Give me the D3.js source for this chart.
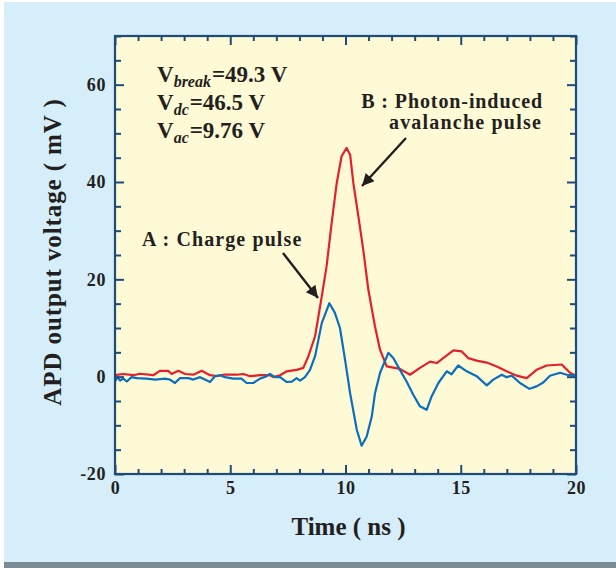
<!DOCTYPE html>
<html>
<head>
<meta charset="utf-8">
<script src="https://cdn.jsdelivr.net/npm/d3@7"></script>
<style>
  html, body { margin: 0; padding: 0; background: #ffffff; }
  svg { display: block; }
  text { font-family: "Liberation Serif", "Times New Roman", serif; font-weight: bold; fill: #231f20; }
</style>
</head>
<body>
<svg id="chart" width="616" height="568"></svg>
<script>
// Time axis (ns) and output voltage (mV) of the two APD pulses
const timeB = [0,0.36,0.8,1.08,1.66,1.95,2.31,2.46,2.75,3.04,3.40,3.76,4.12,4.41,4.70,5.28,5.57,5.86,6.29,6.72,6.87,7.16,7.45,7.88,8.17,8.39,8.68,8.97,9.18,9.40,9.62,9.83,10.05,10.20,10.34,10.56,10.77,10.99,11.28,11.50,11.79,12.36,12.80,13.23,13.67,13.96,14.24,14.68,15.04,15.33,15.69,16.13,16.56,16.99,17.43,17.86,18.29,18.73,19.38,19.74,20];
const voltB = [0.3,0.55,0.3,0.6,0.3,1.2,1.2,0.55,1.2,0.55,0.4,1.2,0.3,0.1,0.4,0.4,0.55,0.1,0.3,0.3,-0.1,0.3,1.1,1.4,1.8,4.2,8.3,16.5,22.7,31.6,39.8,45.3,47.0,45.6,39.8,32.9,26.1,17.9,10.3,5.5,2.1,1.6,0.4,1.8,3.1,2.8,3.8,5.4,5.2,3.8,3.3,2.9,2.1,1.1,0.2,-0.3,1.4,2.3,2.5,0.8,0.2];

const timeA = [0,0.1,0.22,0.36,0.51,0.72,0.94,1.37,1.74,2.17,2.39,2.60,2.82,3.18,3.40,3.69,3.90,4.12,4.34,4.56,4.77,5.13,5.49,5.71,6.00,6.29,6.58,6.72,6.94,7.16,7.45,7.67,7.88,8.03,8.24,8.46,8.68,8.97,9.30,9.54,9.76,9.98,10.20,10.49,10.70,10.92,11.14,11.28,11.50,11.86,12.08,12.36,12.65,12.94,13.23,13.52,13.74,14.03,14.39,14.60,14.89,15.26,15.69,16.13,16.41,16.78,16.99,17.21,17.57,17.98,18.29,18.58,18.87,19.31,19.60,20];
const voltA = [-1.0,-0.1,-0.8,-0.4,-1.0,-0.1,-0.3,-0.4,-0.6,-0.4,-0.6,-1.3,-0.3,-0.3,-0.6,-0.1,-0.6,-1.1,0.1,0.3,-0.1,-0.4,-0.4,-1.3,-1.3,-0.4,0.1,0.55,-0.1,-0.1,-1.1,-1.0,-0.3,-0.8,-0.1,1.4,4.2,11.0,15.1,13.1,10.0,3.5,-3.4,-10.9,-14.2,-12.3,-8.2,-3.4,0.8,4.9,3.8,1.4,-1.0,-3.7,-6.1,-6.8,-4.0,-1.3,1.1,0.5,2.3,1.1,0.1,-1.8,-0.6,0.4,-0.1,0.2,-1.3,-2.5,-2.0,-1.2,0.2,0.8,0.4,0.2];

const xMajorTicks = [0, 5, 10, 15, 20];
const yMajorTicks = [-20, 0, 20, 40, 60];

const C = {
  panel: "#d6eefa", plot: "#fffad6", axis: "#1d4c7a",
  red: "#e3212b", blue: "#0a6fbd", bar: "#7b8b93", ink: "#231f20"
};

const svg = d3.select("#chart");

// backdrop panel and footer strip
svg.append("rect").attr("x", 4).attr("y", 2).attr("width", 612).attr("height", 560).attr("fill", C.panel);
svg.append("rect").attr("x", 4).attr("y", 562).attr("width", 612).attr("height", 6).attr("fill", C.bar);

const L = 115, R = 576, T = 36, B = 474;
const x = d3.scaleLinear().domain([0, 20]).range([L, R]);
const y = d3.scaleLinear().domain([-20, 70]).range([B, T]);

svg.append("rect").attr("x", L).attr("y", T).attr("width", R - L).attr("height", B - T).attr("fill", C.plot);

// curves
const line = (ts, vs) => d3.line().x((d, i) => x(ts[i])).y((d, i) => y(vs[i]))(ts);
const g = svg.append("g");
g.append("path").attr("d", line(timeB, voltB)).attr("fill", "none")
  .attr("stroke", C.red).attr("stroke-width", 2.2).attr("stroke-linejoin", "round");
g.append("path").attr("d", line(timeA, voltA)).attr("fill", "none")
  .attr("stroke", C.blue).attr("stroke-width", 2.2).attr("stroke-linejoin", "round");

// axes: inward ticks on all four sides
const xMinor = d3.range(0, 21, 1).filter(v => v % 5 !== 0);
const yMinor = d3.range(-20, 71, 5).filter(v => v % 20 !== 0);

function styleAxis(sel) {
  sel.select(".domain").remove();
  sel.selectAll("line").attr("stroke", C.axis).attr("stroke-width", 2);
  sel.selectAll("text").attr("fill", C.ink).style("font-size", "18px").style("letter-spacing", "0.6px")
    .style("font-family", '"Liberation Serif", serif').style("font-weight", "bold");
}
// plain hyphen for negative labels
const fmt = v => String(v);

svg.append("g").attr("transform", `translate(0,${B})`)
  .call(d3.axisBottom(x).tickValues(xMajorTicks).tickSize(-9).tickPadding(7).tickFormat(fmt)).call(styleAxis);
svg.append("g").attr("transform", `translate(0,${B})`)
  .call(d3.axisBottom(x).tickValues(xMinor).tickSize(-5).tickFormat("")).call(styleAxis);
svg.append("g").attr("transform", `translate(0,${T})`)
  .call(d3.axisTop(x).tickValues(xMajorTicks).tickSize(-9).tickFormat("")).call(styleAxis);
svg.append("g").attr("transform", `translate(0,${T})`)
  .call(d3.axisTop(x).tickValues(xMinor).tickSize(-5).tickFormat("")).call(styleAxis);

svg.append("g").attr("transform", `translate(${L},0)`)
  .call(d3.axisLeft(y).tickValues(yMajorTicks).tickSize(-9).tickPadding(9).tickFormat(fmt)).call(styleAxis);
svg.append("g").attr("transform", `translate(${L},0)`)
  .call(d3.axisLeft(y).tickValues(yMinor).tickSize(-6).tickFormat("")).call(styleAxis);
svg.append("g").attr("transform", `translate(${R},0)`)
  .call(d3.axisRight(y).tickValues(yMajorTicks).tickSize(-9).tickFormat("")).call(styleAxis);
svg.append("g").attr("transform", `translate(${R},0)`)
  .call(d3.axisRight(y).tickValues(yMinor).tickSize(-6).tickFormat("")).call(styleAxis);

svg.append("rect").attr("x", L).attr("y", T).attr("width", R - L).attr("height", B - T)
  .attr("fill", "none").attr("stroke", C.axis).attr("stroke-width", 2.2);

// axis titles
svg.append("text").attr("x", (L + R) / 2 + 3).attr("y", 535).attr("text-anchor", "middle")
  .style("font-size", "25px").text("Time ( ns )");
svg.append("text").attr("transform", "translate(61,252) rotate(-90)").attr("text-anchor", "middle")
  .style("font-size", "25px").style("letter-spacing", "0.9px").text("APD output voltage ( mV )");

// bias conditions
const bias = [["break", "49.3"], ["dc", "46.5"], ["ac", "9.76"]];
bias.forEach((b, i) => {
  const t = svg.append("text").attr("x", 157).attr("y", 82 + i * 28).style("font-size", "23px");
  t.append("tspan").text("V");
  t.append("tspan").attr("dy", 5).style("font-size", "16px").style("font-style", "italic").text(b[0]);
  t.append("tspan").attr("dy", -5).attr("dx", 1).text("=" + b[1] + " V");
});

// pulse annotations
svg.append("text").attr("x", 142).attr("y", 246).style("font-size", "20px")
  .style("letter-spacing", "1.1px").text("A : Charge pulse");
svg.append("text").attr("x", 543).attr("y", 108).attr("text-anchor", "end").style("font-size", "20px")
  .style("letter-spacing", "0.9px").text("B : Photon-induced");
svg.append("text").attr("x", 542).attr("y", 129).attr("text-anchor", "end").style("font-size", "20px")
  .style("letter-spacing", "1.2px").text("avalanche pulse");

// arrows
const defs = svg.append("defs");
defs.append("marker").attr("id", "head").attr("viewBox", "0 0 10 10").attr("refX", 10).attr("refY", 5)
  .attr("markerWidth", 6).attr("markerHeight", 5).attr("markerUnits", "strokeWidth").attr("orient", "auto")
  .append("path").attr("d", "M0,0 L10,5 L0,10 Z").attr("fill", C.ink);
[[283, 253, 318, 298], [406, 138, 362, 186]].forEach(a => {
  svg.append("line").attr("x1", a[0]).attr("y1", a[1]).attr("x2", a[2]).attr("y2", a[3])
    .attr("stroke", C.ink).attr("stroke-width", 2.4).attr("marker-end", "url(#head)");
});
</script>
</body>
</html>
